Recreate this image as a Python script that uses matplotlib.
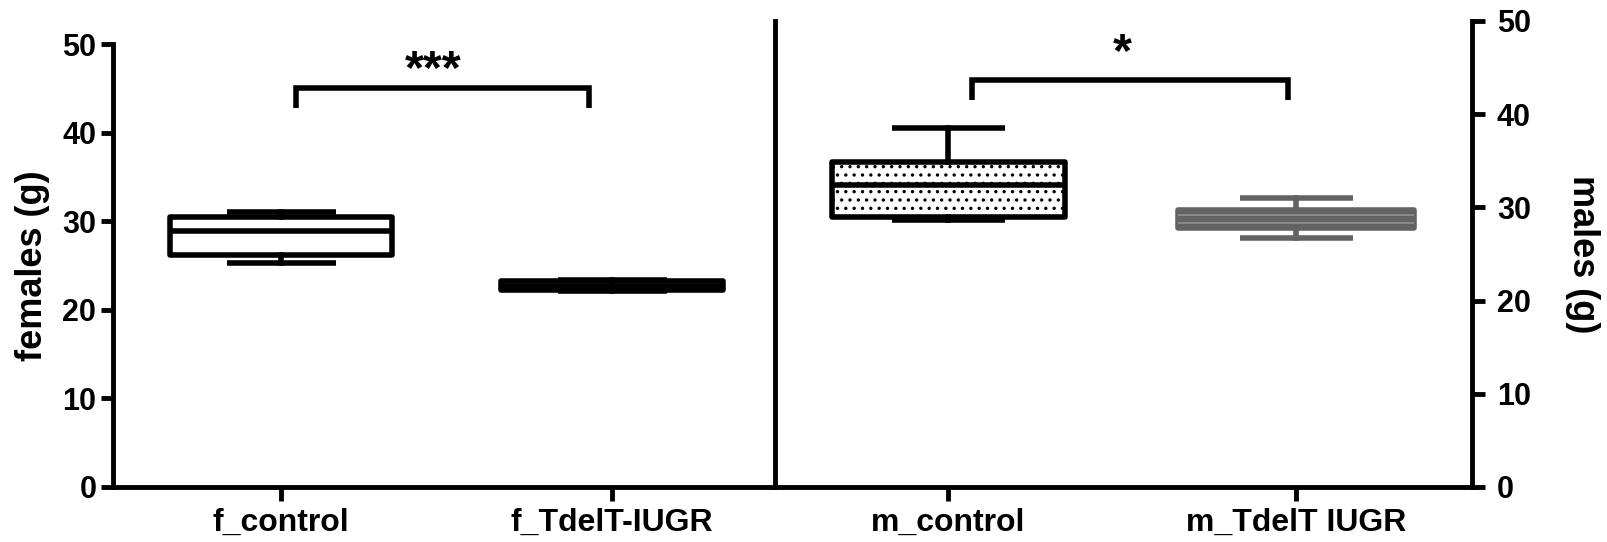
import numpy as np
import matplotlib
matplotlib.use("Agg")
import matplotlib.pyplot as plt
import matplotlib.patheffects as pe

plt.rcParams['font.family'] = ['Liberation Sans', 'DejaVu Sans']
plt.rcParams['font.weight'] = 'bold'
plt.rcParams['axes.labelweight'] = 'bold'
plt.rcParams['hatch.linewidth'] = 1.2

# box statistics (grams)
femaleLabels = ["f_control", "f_TdelT-IUGR"]
femaleWhisLo = [25.25, 22.1]
femaleQ1 = [26.2, 22.2]
femaleMed = [28.9, 22.7]
femaleQ3 = [30.5, 23.3]
femaleWhisHi = [31.0, 23.4]

maleLabels = ["m_control", "m_TdelT IUGR"]
maleWhisLo = [28.7, 26.7]
maleQ1 = [29.0, 27.8]
maleMed = [32.4, 28.8]
maleQ3 = [34.9, 29.7]
maleWhisHi = [38.5, 31.0]

yTicks = [0, 10, 20, 30, 40, 50]

femaleStars = "***"
maleStars = "*"


def makeStats(lo, q1, med, q3, hi):
    stats = []
    for i in range(len(lo)):
        stats.append({"whislo": lo[i], "q1": q1[i], "med": med[i], "q3": q3[i], "whishi": hi[i], "fliers": []})
    return stats


fig = plt.figure(figsize=(16.08, 5.42), dpi=100)
ax1 = fig.add_axes([113/1608, 1-487/542, (775-113)/1608, (487-44)/542])
ax2 = fig.add_axes([775/1608, 1-487/542, (1472-775)/1608, (487-21)/542])

lw = 4
gray = "#636363"

fStats = makeStats(femaleWhisLo, femaleQ1, femaleMed, femaleQ3, femaleWhisHi)
mStats = makeStats(maleWhisLo, maleQ1, maleMed, maleQ3, maleWhisHi)

# females, both boxes black outline, second one is basically a bar
ax1.bxp(fStats, positions=[0, 1], widths=0.67, capwidths=0.33, patch_artist=True,
        showfliers=False, manage_ticks=False,
        boxprops=dict(facecolor="white", edgecolor="black", linewidth=lw, joinstyle="round"),
        whiskerprops=dict(color="black", linewidth=lw),
        capprops=dict(color="black", linewidth=lw, solid_capstyle="butt"),
        medianprops=dict(color="black", linewidth=lw, solid_capstyle="butt"))

# males, control dotted, IUGR gray
ax2.bxp(mStats[:1], positions=[0], widths=0.67, capwidths=0.325, patch_artist=True,
        showfliers=False, manage_ticks=False,
        boxprops=dict(facecolor="white", edgecolor="black", linewidth=lw, joinstyle="round", hatch=".."),
        whiskerprops=dict(color="black", linewidth=lw),
        capprops=dict(color="black", linewidth=lw, solid_capstyle="butt"),
        medianprops=dict(color="black", linewidth=lw, solid_capstyle="butt"))
ax2.bxp(mStats[1:], positions=[1], widths=0.68, capwidths=0.325, patch_artist=True,
        showfliers=False, manage_ticks=False,
        boxprops=dict(facecolor=gray, edgecolor=gray, linewidth=lw, joinstyle="round"),
        whiskerprops=dict(color=gray, linewidth=lw),
        capprops=dict(color=gray, linewidth=lw, solid_capstyle="butt"),
        medianprops=dict(color=gray, linewidth=4.3, solid_capstyle="butt",
                         path_effects=[pe.Stroke(linewidth=7, foreground="#8c8c8c"), pe.Normal()]))

ax1.set_xlim(-0.508, 1.492)
ax2.set_xlim(-0.499, 1.506)
ax1.set_ylim(0, 50)
ax2.set_ylim(0, 50)

# significance brackets
ax1.plot([0.045, 0.045, 0.93, 0.93], [42.8, 45.0, 45.0, 42.8], color="black", linewidth=lw,
         solid_joinstyle="miter", solid_capstyle="butt")
ax1.text(0.46, 45.6, femaleStars, ha="center", va="baseline", fontsize=35)
ax2.plot([0.068, 0.068, 0.977, 0.977], [41.5, 43.7, 43.7, 41.5], color="black", linewidth=lw,
         solid_joinstyle="miter", solid_capstyle="butt")
ax2.text(0.5, 45.2, maleStars, ha="center", va="baseline", fontsize=35)

# spines
ax1.spines["top"].set_visible(False)
ax1.spines["right"].set_visible(False)
ax2.spines["top"].set_visible(False)
for s in ["left", "bottom"]:
    ax1.spines[s].set_linewidth(3.5)
for s in ["left", "right", "bottom"]:
    ax2.spines[s].set_linewidth(3.5)

ax1.set_yticks(yTicks)
ax2.set_yticks(yTicks)
ax1.set_xticks([0, 1])
ax1.set_xticklabels(femaleLabels)
ax2.set_xticks([0, 1])
ax2.set_xticklabels(maleLabels)

ax1.tick_params(axis="y", length=9, width=3.5, labelsize=22, pad=3)
ax1.tick_params(axis="x", length=10, width=3.5, labelsize=23, pad=5)
ax2.yaxis.tick_right()
ax2.yaxis.set_label_position("right")
ax2.tick_params(axis="y", length=9, width=3.5, labelsize=22, pad=9)
ax2.tick_params(axis="x", length=10, width=3.5, labelsize=23, pad=5)

ax1.set_ylabel("females (g)", fontsize=26, fontweight="bold", va="center")
ax1.yaxis.set_label_coords(-0.122, 0.5)
ax2.set_ylabel("males (g)", fontsize=26, fontweight="bold", rotation=270, va="center")
ax2.yaxis.set_label_coords(1.159, 0.5)

plt.savefig("out.png", dpi=100)
